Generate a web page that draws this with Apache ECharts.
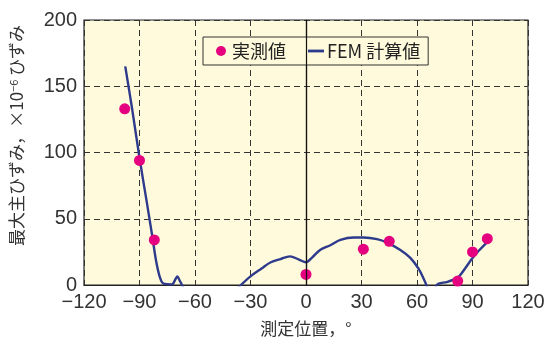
<!DOCTYPE html>
<html>
<head>
<meta charset="utf-8">
<script src="https://cdn.jsdelivr.net/npm/echarts@6/dist/echarts.min.js"></script>
<style>
  html, body { margin: 0; padding: 0; background: #ffffff; }
  #chart { width: 550px; height: 342px; }
</style>
</head>
<body>
<div id="chart"></div>
<script>
// Measured maximum principal strain (points) vs. position angle
const measuredAngle = [-98, -90, -82, 0, 31, 45, 82, 90, 98];
const measuredStrain = [133, 94, 34, 8, 27, 33, 3, 25, 35];

// FEM results, three separate branches
const femAngle1 = [-97.7, -94, -90, -86, -83, -81, -79, -77, -72.5, -70.5, -69.5, -68.5, -66.3];
const femStrain1 = [165, 133, 96, 62, 36, 18, 6, 1, 0.5, 4.5, 6.5, 4, -2];
const femAngle2 = [-37, -30, -24, -19, -13.7, -8.7, -3.8, 0, 3.4, 7.8, 13.2, 18.6, 25.8, 31.2, 38.4, 43.8, 51, 56.4, 60.9, 63.6, 65.5];
const femStrain2 = [-2.5, 6.5, 12.5, 17.2, 19.6, 21.6, 19.2, 17.2, 20.9, 26.6, 30, 34, 35.8, 35.8, 34.6, 32, 26.5, 20.5, 12.2, 4.7, -1.5];
const femAngle3 = [69.9, 71.7, 76.1, 79.7, 82.4, 86, 89.6, 93.5, 97.7];
const femStrain3 = [-1.5, 1, 2.2, 4, 6, 12.5, 19.6, 26, 32];

const xTicks = { min: -120, max: 120, step: 30 };
const yTicks = { min: 0, max: 200, step: 50 };

const pairs = (xs, ys) => xs.map((x, i) => [x, ys[i]]);
const femData = [].concat(
  pairs(femAngle1, femStrain1), [[-50, '-']],
  pairs(femAngle2, femStrain2), [[67.5, '-']],
  pairs(femAngle3, femStrain3)
);

const minus = v => String(v).replace('-', '\u2212');
const labelFont = { fontFamily: 'Liberation Sans, Arial, sans-serif', fontSize: 20, color: '#333333' };
const gridLine = { show: true, lineStyle: { color: '#333333', type: [6, 4], width: 1 } };

const chart = echarts.init(document.getElementById('chart'), null, { renderer: 'canvas' });
chart.setOption({
  animation: false,
  backgroundColor: '#ffffff',
  grid: {
    left: 83, right: 22, top: 20, bottom: 54,
    show: true, backgroundColor: '#fffadb', borderColor: '#222222', borderWidth: 1.2
  },
  legend: {
    left: 203, top: 37,
    padding: [5, 8, 5, 13],
    itemGap: 22,
    itemWidth: 16, itemHeight: 10,
    backgroundColor: '#fffadb',
    borderColor: '#333333', borderWidth: 1,
    textStyle: { fontFamily: 'Noto Sans CJK JP, sans-serif', fontSize: 18, color: '#222222', padding: [0, 0, 0, -2] },
    data: [
      { name: '実測値', icon: 'circle' },
      { name: 'FEM 計算値', icon: 'path://M0,0M0,10M0,3.6L16,3.6L16,6.4L0,6.4Z' }
    ]
  },
  xAxis: {
    type: 'value', min: xTicks.min, max: xTicks.max, interval: xTicks.step,
    name: '測定位置，°', nameLocation: 'middle', nameGap: 35,
    nameTextStyle: { fontFamily: 'Noto Sans CJK JP, sans-serif', fontSize: 17, color: '#333333' },
    axisLine: { show: true, lineStyle: { color: '#222222', width: 1.2 } },
    axisTick: { show: false },
    axisLabel: Object.assign({ margin: 7, formatter: minus }, labelFont),
    splitLine: gridLine
  },
  yAxis: {
    type: 'value', min: yTicks.min, max: yTicks.max, interval: yTicks.step,
    name: '{t|最大主ひずみ，×10}{s|−6}{t| ひずみ}', nameLocation: 'middle', nameGap: 58,
    nameTextStyle: {
      padding: [0, 0, 0, 34],
      rich: {
        t: { fontFamily: 'Noto Sans CJK JP, sans-serif', fontSize: 17, color: '#333333' },
        s: { fontFamily: 'Noto Sans CJK JP, sans-serif', fontSize: 11, color: '#333333', verticalAlign: 'top', padding: [0, 0, 7, 0] }
      }
    },
    axisLine: { show: true, lineStyle: { color: '#222222', width: 1.2 } },
    axisTick: { show: false },
    axisLabel: Object.assign({ margin: 7 }, labelFont),
    splitLine: gridLine
  },
  series: [
    {
      name: 'FEM 計算値', type: 'line', data: femData,
      smooth: 0.35, showSymbol: false, connectNulls: false, clip: true,
      lineStyle: { color: '#2e3a8c', width: 2.4 },
      itemStyle: { color: '#2e3a8c' },
      markLine: {
        silent: true, symbol: 'none', label: { show: false },
        lineStyle: { color: '#111111', type: 'solid', width: 1.2 },
        data: [{ xAxis: 0 }]
      },
      z: 3
    },
    {
      name: '実測値', type: 'scatter', data: pairs(measuredAngle, measuredStrain),
      symbol: 'circle', symbolSize: 11,
      itemStyle: { color: '#e4007f', opacity: 1 },
      z: 4
    }
  ]
});
</script>
</body>
</html>
